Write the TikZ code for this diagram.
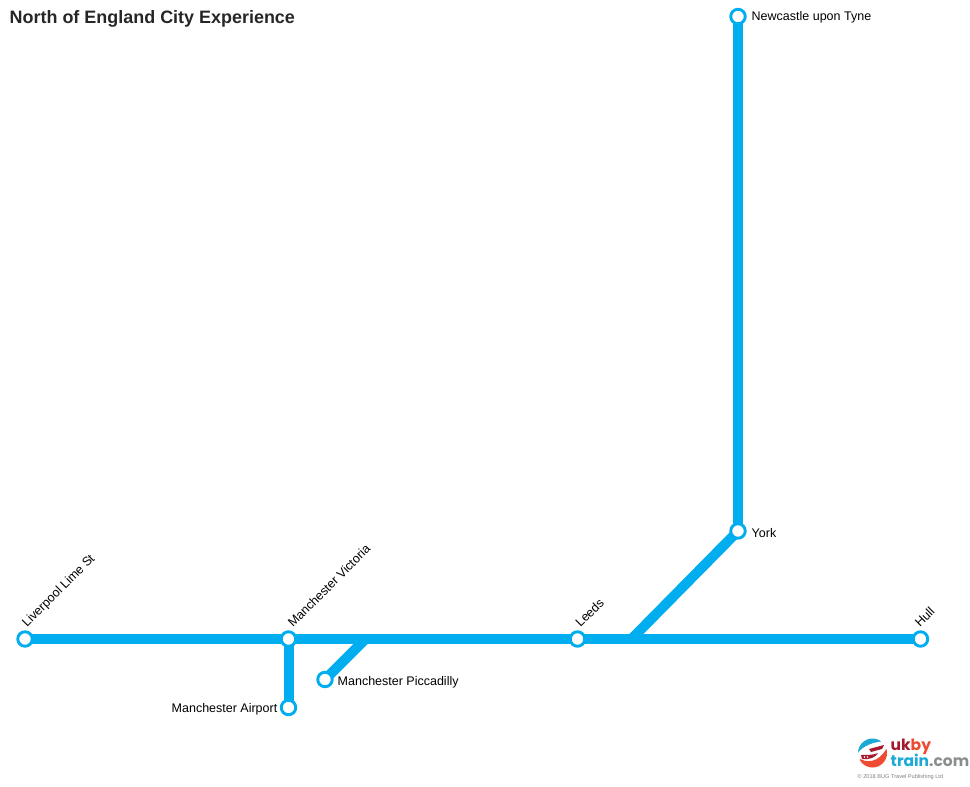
\documentclass[tikz,border=0pt]{standalone}
\usepackage{fontspec}
\setmainfont{Liberation Sans}
\newfontfamily\logofont{Poppins}
\usetikzlibrary{backgrounds}
\definecolor{linecyan}{HTML}{00AEEF}
\definecolor{logored}{HTML}{A6192E}
\definecolor{logoorange}{HTML}{EF4B32}
\definecolor{logoteal}{HTML}{1CA9D6}
\definecolor{logogrey}{HTML}{8A8C8E}
\tikzset{station/.style={circle, draw=linecyan, fill=white, line width=2.9pt, minimum size=14.5pt, inner sep=0pt}}
\tikzset{route/.style={draw=linecyan, line width=10pt}}
\tikzset{stationlabel/.style={font=\fontsize{12.5}{14}\selectfont, text=black, inner sep=0pt}}
\tikzset{slanted/.style={stationlabel, rotate=45, anchor=base west}}
\begin{document}
\begin{tikzpicture}[x=1pt, y=-1pt]
\useasboundingbox (0,0) rectangle (970,787);
\node[anchor=base west, inner sep=0pt, font=\fontsize{17.95}{20}\selectfont\bfseries, text=black!85] (title) at (9.5,23.5) {North of England City Experience};
% stations
\node[station] (newcastle) at (738,16.5) {};
\node[station] (york) at (738,531) {};
\node[station] (liverpool) at (25,639) {};
\node[station] (victoria) at (288.5,639) {};
\node[station] (leeds) at (577.5,639) {};
\node[station] (hull) at (920.5,639) {};
\node[station] (airport) at (288.5,707.5) {};
\node[station] (piccadilly) at (325,679.5) {};
\coordinate (pjoin) at (366,638.5);
\coordinate (yjoin) at (632,638.5);
% lines
\begin{scope}[on background layer]
\draw[route] (liverpool.center) -- (hull.center);
\draw[route] (victoria.center) -- (airport.center);
\draw[route] (piccadilly.center) -- (pjoin);
\draw[route] (york.center) -- (yjoin);
\draw[route] (newcastle.center) -- (york.center);
\end{scope}
% labels
\node[stationlabel, anchor=base west] (newcastlelabel) at (751.5,20.5) {Newcastle upon Tyne};
\node[stationlabel, anchor=base west] (yorklabel) at (751.5,537.5) {York};
\node[stationlabel, anchor=base west] (piccadillylabel) at (337.5,685.5) {Manchester Piccadilly};
\node[stationlabel, anchor=base east] (airportlabel) at (277.5,712) {Manchester Airport};
\node[slanted] (liverpoollabel) at (27,628) {Liverpool Lime St};
\node[slanted] (victorialabel) at (293,628) {Manchester Victoria};
\node[slanted] (leedslabel) at (580.5,628) {Leeds};
\node[slanted] (hulllabel) at (920,628) {Hull};
% logo
\begin{scope}
\clip (872.5,753) circle (14.5);
\fill[white] (858,738) rectangle (887,768);
\fill[logoteal] (857,754) .. controls (862,746) and (874,741) .. (888,741) -- (888,738) -- (857,738) -- cycle;
\fill[logoorange] (860,759) .. controls (872,765) and (882,758) .. (888,746) -- (888,768) -- (857,768) -- cycle;
\fill[logored] (869,749) -- (884,745) -- (882,749) -- (871,752) -- cycle;
\fill[logored] (861,755) .. controls (868,755) and (874,755) .. (878,753) .. controls (876,757) and (870,760) .. (862,759) -- cycle;
\fill[white] (864.5,757) circle (0.9) (867.5,757) circle (0.9);
\end{scope}
\node[anchor=base west, inner sep=0pt, font=\logofont\fontsize{15.5}{16}\selectfont\bfseries] (logotop) at (890.5,750.5) {\textcolor{logored}{uk}\textcolor{logoorange}{by}};
\node[anchor=base west, inner sep=0pt, font=\logofont\fontsize{15.5}{16}\selectfont\bfseries] (logobottom) at (890.5,766.5) {\textcolor{logoteal}{train}\textcolor{logogrey}{.com}};
\node[anchor=base west, inner sep=0pt, font=\fontsize{5.6}{6}\selectfont, text=black!50] (copyright) at (857.5,778.5) {\textcopyright{} 2018 BUG Travel Publishing Ltd};
\end{tikzpicture}
\end{document}
